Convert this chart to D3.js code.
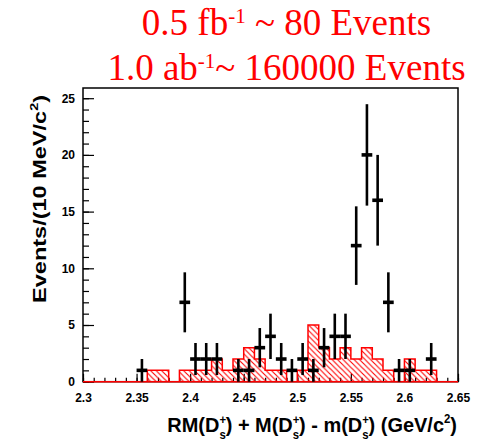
<!DOCTYPE html>
<html>
<head>
<meta charset="utf-8">
<script src="https://cdn.jsdelivr.net/npm/d3@7"></script>
<style>
  body { margin: 0; background: #fff; }
</style>
</head>
<body>
<svg id="chart" width="486" height="442"></svg>
<script>
// DATA
// lower edges of the 10 MeV/c2 bins (last entry = upper edge of the range)
var binEdges = [2.30, 2.31, 2.32, 2.33, 2.34, 2.35, 2.36, 2.37, 2.38, 2.39,
                2.40, 2.41, 2.42, 2.43, 2.44, 2.45, 2.46, 2.47, 2.48, 2.49,
                2.50, 2.51, 2.52, 2.53, 2.54, 2.55, 2.56, 2.57, 2.58, 2.59,
                2.60, 2.61, 2.62, 2.63, 2.64, 2.65];
// background (red hatched) histogram contents, one per bin
var bkgCounts = [0, 0, 0, 0, 0, 0, 1, 1, 0, 1,
                 1, 1, 2, 1, 2, 3, 2, 1, 1, 0,
                 1, 5, 3, 2, 3, 2, 3, 2, 1, 0,
                 2, 1, 1, 0, 0];
// data points (bin centres and counts)
var dataMass = [2.355, 2.395, 2.405, 2.415, 2.425, 2.445, 2.455, 2.465, 2.475, 2.485,
                2.495, 2.505, 2.515, 2.525, 2.535, 2.545, 2.555, 2.565, 2.575, 2.585,
                2.595, 2.605, 2.625];
var dataCounts = [1, 7, 2, 2, 2, 1, 1, 3, 4, 2,
                  1, 2, 1, 3, 4, 4, 12, 20, 16, 7,
                  1, 1, 2];
var xTickValues = [2.3, 2.35, 2.4, 2.45, 2.5, 2.55, 2.6, 2.65];
var xTickLabels = ["2.3", "2.35", "2.4", "2.45", "2.5", "2.55", "2.6", "2.65"];
var yTickValues = [0, 5, 10, 15, 20, 25];
var yTickLabels = ["0", "5", "10", "15", "20", "25"];

// SETUP
var svg = d3.select("#chart"),
    frame = {left: 83, right: 458, top: 88, bottom: 381.7};

var x = d3.scaleLinear().domain([2.3, 2.65]).range([frame.left, frame.right]);
var y = d3.scaleLinear().domain([0, 25.9]).range([frame.bottom, frame.top]);

var defs = svg.append("defs");
defs.append("pattern")
    .attr("id", "hatch")
    .attr("patternUnits", "userSpaceOnUse")
    .attr("width", 5.5)
    .attr("height", 5.5)
  .append("path")
    .attr("d", "M-1,-1 L6.5,6.5 M-1,4.5 L1,6.5 M4.5,-1 L6.5,1")
    .attr("stroke", "#ff0000")
    .attr("stroke-width", 1.1);

// frame
svg.append("rect")
    .attr("x", frame.left)
    .attr("y", frame.top)
    .attr("width", frame.right - frame.left)
    .attr("height", frame.bottom - frame.top)
    .attr("fill", "none")
    .attr("stroke", "#000")
    .attr("stroke-width", 1.5);

// AXES
var tickFont = function(g) {
  g.selectAll("text")
      .attr("font-family", "Liberation Sans, Arial, sans-serif")
      .attr("font-weight", "bold")
      .attr("font-size", 12)
      .attr("fill", "#000");
  g.select(".domain").remove();
  g.selectAll("line").attr("stroke", "#000").attr("stroke-width", 1.2);
};

svg.append("g")
    .attr("transform", "translate(0," + frame.bottom + ")")
    .call(d3.axisBottom(x).tickValues(d3.range(2.30, 2.6501, 0.01)).tickSize(-4).tickFormat(""))
    .call(tickFont);

svg.append("g")
    .attr("transform", "translate(0," + frame.bottom + ")")
    .call(d3.axisBottom(x).tickValues(xTickValues).tickSize(-8).tickPadding(12)
            .tickFormat(function(d, i) { return xTickLabels[i]; }))
    .call(tickFont);

svg.append("g")
    .attr("transform", "translate(" + frame.left + ",0)")
    .call(d3.axisLeft(y).tickValues(d3.range(0, 26, 1)).tickSize(-6).tickFormat(""))
    .call(tickFont);

svg.append("g")
    .attr("transform", "translate(" + frame.left + ",0)")
    .call(d3.axisLeft(y).tickValues(yTickValues).tickSize(-11).tickPadding(8)
            .tickFormat(function(d, i) { return yTickLabels[i]; }))
    .call(tickFont);

// BACKGROUND HISTOGRAM
var pts = [[x(binEdges[0]), y(0)]];
bkgCounts.forEach(function(v, i) {
  pts.push([x(binEdges[i]), y(v)]);
  pts.push([x(binEdges[i + 1]), y(v)]);
});
pts.push([x(binEdges[binEdges.length - 1]), y(0)]);

svg.append("path")
    .attr("d", d3.line()(pts) + "Z")
    .attr("fill", "url(#hatch)")
    .attr("stroke", "#ff0000")
    .attr("stroke-width", 1.5);

// DATA POINTS
var pts2 = svg.append("g").selectAll("g")
    .data(dataMass.map(function(m, i) { return {m: m, n: dataCounts[i]}; }))
  .enter().append("g");

pts2.append("line")
    .attr("x1", function(d) { return x(d.m); })
    .attr("x2", function(d) { return x(d.m); })
    .attr("y1", function(d) { return y(d.n + Math.sqrt(d.n)); })
    .attr("y2", function(d) { return y(Math.max(0, d.n - Math.sqrt(d.n))); })
    .attr("stroke", "#000")
    .attr("stroke-width", 2.6);

pts2.append("line")
    .attr("x1", function(d) { return x(d.m - 0.005); })
    .attr("x2", function(d) { return x(d.m + 0.005); })
    .attr("y1", function(d) { return y(d.n); })
    .attr("y2", function(d) { return y(d.n); })
    .attr("stroke", "#000")
    .attr("stroke-width", 3.6);

// TITLES
var xt = svg.append("text")
    .attr("font-family", "Liberation Sans, Arial, sans-serif")
    .attr("font-weight", "bold")
    .attr("font-size", 21)
    .attr("fill", "#000")
    .attr("text-anchor", "end");
function ds(t, after) {
  t.append("tspan").text("D");
  t.append("tspan").attr("font-size", 12).attr("dy", -8).text("+");
  t.append("tspan").attr("font-size", 12).attr("dx", -7).attr("dy", 15).text("s");
  t.append("tspan").attr("dy", -7).text(after);
}
xt.append("tspan").text("RM(");
ds(xt, ") + M(");
ds(xt, ") - m(");
ds(xt, ") (GeV/c");
xt.append("tspan").attr("font-size", 12).attr("dy", -9).text("2");
xt.append("tspan").attr("dy", 9).text(")");
var xw = xt.node().getBBox().width;
xt.attr("transform", "translate(457,431.5) scale(" + (290 / xw) + ",1)");

var yt = svg.append("text")
    .attr("font-family", "Liberation Sans, Arial, sans-serif")
    .attr("font-weight", "bold")
    .attr("font-size", 18)
    .attr("fill", "#000")
    .attr("text-anchor", "end");
yt.append("tspan").text("Events/(10 MeV/c");
yt.append("tspan").attr("font-size", 11).attr("dy", -8).text("2");
yt.append("tspan").attr("dy", 8).text(")");
var yw = yt.node().getBBox().width;
yt.attr("transform", "translate(46,95) rotate(-90) scale(" + (208 / yw) + ",1)");

// red header lines
var h1 = svg.append("text")
    .attr("x", 286.5).attr("y", 35)
    .attr("font-family", "Liberation Serif, Times New Roman, serif")
    .attr("font-size", 37)
    .attr("fill", "#ff0000")
    .attr("text-anchor", "middle");
h1.append("tspan").text("0.5 fb");
h1.append("tspan").attr("font-size", 21).attr("dy", -12).text("-1");
h1.append("tspan").attr("dy", 12).text(" ~ 80 Events");

var h2 = svg.append("text")
    .attr("x", 286.5).attr("y", 80)
    .attr("font-family", "Liberation Serif, Times New Roman, serif")
    .attr("font-size", 37)
    .attr("fill", "#ff0000")
    .attr("text-anchor", "middle");
h2.append("tspan").text("1.0 ab");
h2.append("tspan").attr("font-size", 21).attr("dy", -12).text("-1");
h2.append("tspan").attr("dy", 12).text("~ 160000 Events");
</script>
</body>
</html>
